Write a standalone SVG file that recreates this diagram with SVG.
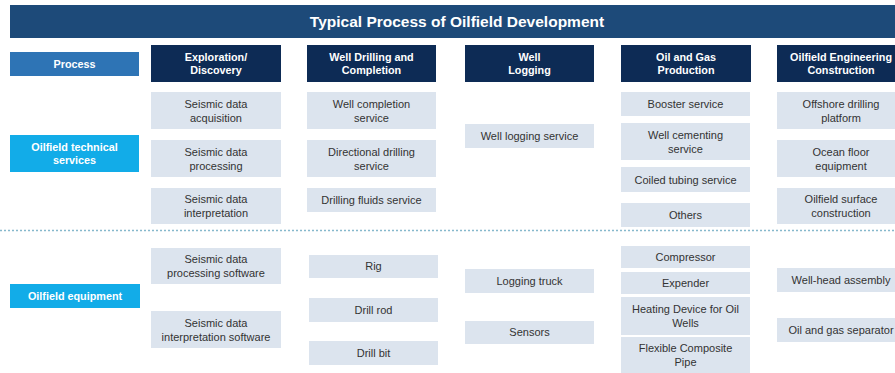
<svg xmlns="http://www.w3.org/2000/svg" width="895" height="373" viewBox="0 0 895 373">
<style>
text{font-family:"Liberation Sans",Arial,sans-serif;text-anchor:middle}
.title{fill:#fff;font-weight:bold;font-size:15.5px}
.hdr rect{fill:#0D2B55}
.hdr text{fill:#fff;font-weight:bold;font-size:10.8px}
.lt rect{fill:#DCE4EE}
.lt text{fill:#333;font-size:11px}
.proc rect{fill:#2E74B5}
.cat rect{fill:#12ACE8}
.proc text,.cat text{fill:#fff;font-weight:bold;font-size:10.8px}
</style>
<rect width="895" height="373" fill="#fff"/>
<g id="title"><rect x="10" y="5" width="885" height="33" fill="#1D4A79"/><text class="title" x="457" y="27">Typical Process of Oilfield Development</text></g>
<g id="connectors"><line x1="0" y1="230.5" x2="895" y2="230.5" stroke="#86B8CC" stroke-width="1.5" stroke-dasharray="2 2"/></g>
<g id="process" class="proc"><rect x="10" y="52" width="129" height="24"/><text x="74.5" y="68">Process</text></g>
<g id="cat-services" class="cat"><rect x="10" y="135" width="129" height="37"/><text x="74.5" y="151">Oilfield technical</text><text x="74.5" y="164">services</text></g>
<g id="cat-equipment" class="cat"><rect x="10" y="284" width="130" height="24"/><text x="75" y="300">Oilfield equipment</text></g>
<g id="h-explore" class="hdr"><rect x="151" y="45" width="130" height="37"/><text x="216" y="61">Exploration/</text><text x="216" y="74">Discovery</text></g>
<g id="h-drill" class="hdr"><rect x="307" y="45" width="129" height="37"/><text x="371.5" y="61">Well Drilling and</text><text x="371.5" y="74">Completion</text></g>
<g id="h-logging" class="hdr"><rect x="465" y="45" width="129" height="37"/><text x="529.5" y="61">Well</text><text x="529.5" y="74">Logging</text></g>
<g id="h-production" class="hdr"><rect x="621" y="45" width="130" height="37"/><text x="686" y="61">Oil and Gas</text><text x="686" y="74">Production</text></g>
<g id="h-engineering" class="hdr"><rect x="777" y="45" width="129" height="37"/><text x="841" y="61">Oilfield Engineering</text><text x="841" y="74">Construction</text></g>
<g id="s-acq" class="lt"><rect x="151" y="92" width="130" height="37"/><text x="216" y="108">Seismic data</text><text x="216" y="122">acquisition</text></g>
<g id="s-proc" class="lt"><rect x="151" y="140" width="130" height="37"/><text x="216" y="156">Seismic data</text><text x="216" y="170">processing</text></g>
<g id="s-interp" class="lt"><rect x="151" y="188" width="130" height="36"/><text x="216" y="203">Seismic data</text><text x="216" y="217">interpretation</text></g>
<g id="w-compl" class="lt"><rect x="307" y="92" width="129" height="37"/><text x="371.5" y="108">Well completion</text><text x="371.5" y="122">service</text></g>
<g id="w-dir" class="lt"><rect x="307" y="140" width="129" height="37"/><text x="371.5" y="156">Directional drilling</text><text x="371.5" y="170">service</text></g>
<g id="w-fluids" class="lt"><rect x="307" y="188" width="129" height="24"/><text x="371.5" y="204">Drilling fluids service</text></g>
<g id="l-service" class="lt"><rect x="465" y="124" width="129" height="24"/><text x="529.5" y="140">Well logging service</text></g>
<g id="p-booster" class="lt"><rect x="621" y="92" width="129" height="24"/><text x="685.5" y="108">Booster service</text></g>
<g id="p-cement" class="lt"><rect x="621" y="123" width="129" height="37"/><text x="685.5" y="139">Well cementing</text><text x="685.5" y="153">service</text></g>
<g id="p-coiled" class="lt"><rect x="621" y="167" width="129" height="25"/><text x="685.5" y="184">Coiled tubing service</text></g>
<g id="p-others" class="lt"><rect x="621" y="203" width="129" height="24"/><text x="685.5" y="219">Others</text></g>
<g id="e-offshore" class="lt"><rect x="777" y="92" width="129" height="37"/><text x="841" y="108">Offshore drilling</text><text x="841" y="122">platform</text></g>
<g id="e-ocean" class="lt"><rect x="777" y="140" width="129" height="37"/><text x="841" y="156">Ocean floor</text><text x="841" y="170">equipment</text></g>
<g id="e-surface" class="lt"><rect x="777" y="188" width="129" height="36"/><text x="841" y="203">Oilfield surface</text><text x="841" y="217">construction</text></g>
<g id="q-sproc" class="lt"><rect x="151" y="248" width="130" height="36"/><text x="216" y="263">Seismic data</text><text x="216" y="277">processing software</text></g>
<g id="q-sinterp" class="lt"><rect x="151" y="311" width="130" height="37"/><text x="216" y="327">Seismic data</text><text x="216" y="341">interpretation software</text></g>
<g id="q-rig" class="lt"><rect x="309" y="255" width="129" height="23"/><text x="373.5" y="270">Rig</text></g>
<g id="q-rod" class="lt"><rect x="309" y="298" width="129" height="24"/><text x="373.5" y="314">Drill rod</text></g>
<g id="q-bit" class="lt"><rect x="309" y="341" width="129" height="24"/><text x="373.5" y="357">Drill bit</text></g>
<g id="q-truck" class="lt"><rect x="465" y="269" width="129" height="24"/><text x="529.5" y="285">Logging truck</text></g>
<g id="q-sensors" class="lt"><rect x="465" y="321" width="129" height="23"/><text x="529.5" y="336">Sensors</text></g>
<g id="q-compressor" class="lt"><rect x="621" y="246" width="129" height="22"/><text x="685.5" y="261">Compressor</text></g>
<g id="q-expender" class="lt"><rect x="621" y="272" width="129" height="22"/><text x="685.5" y="287">Expender</text></g>
<g id="q-heating" class="lt"><rect x="621" y="297" width="129" height="38"/><text x="685.5" y="313">Heating Device for Oil</text><text x="685.5" y="327">Wells</text></g>
<g id="q-pipe" class="lt"><rect x="621" y="337" width="129" height="36"/><text x="685.5" y="352">Flexible Composite</text><text x="685.5" y="366">Pipe</text></g>
<g id="q-wellhead" class="lt"><rect x="777" y="268" width="129" height="24"/><text x="841" y="284">Well-head assembly</text></g>
<g id="q-separator" class="lt"><rect x="777" y="318" width="129" height="24"/><text x="841" y="334">Oil and gas separator</text></g>
</svg>
